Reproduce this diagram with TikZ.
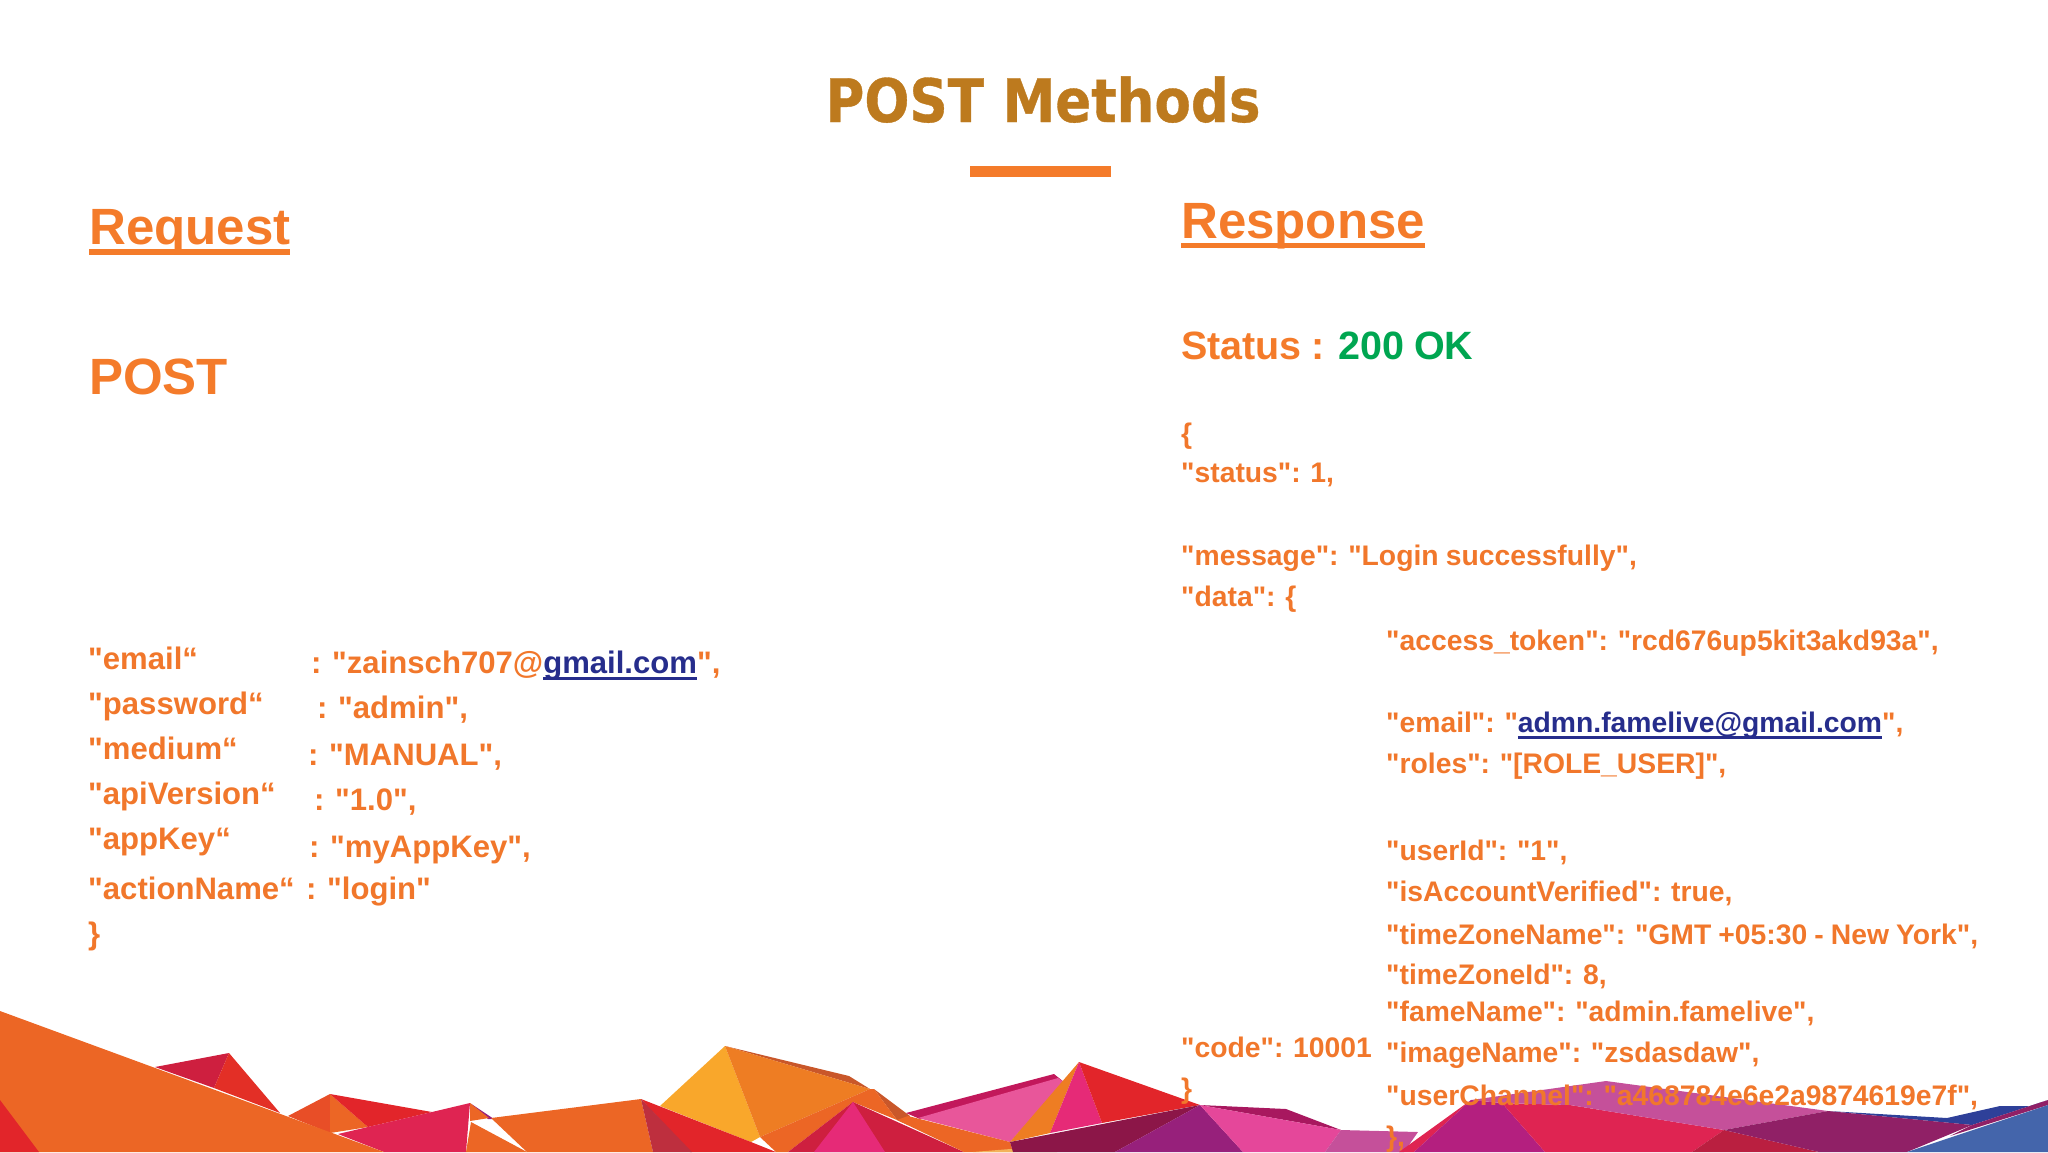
\documentclass[tikz,border=0pt]{standalone}
\usepackage{fontspec}
\setmainfont[Ligatures=TeXOff,WordSpace=0.9]{Liberation Sans}
\newfontfamily\titlefont[FakeStretch=0.885,FakeBold=0.6]{DejaVu Sans}
\definecolor{titlecol}{HTML}{BD7A1E}
\definecolor{headcol}{HTML}{F47B2A}
\definecolor{jsoncol}{HTML}{F1772B}
\definecolor{okcol}{HTML}{00A651}
\definecolor{linkcol}{HTML}{262D8C}
\definecolor{orangeA}{HTML}{EC6625}
\definecolor{orangeB}{HTML}{EE7D23}
\definecolor{orangeC}{HTML}{E84E27}
\definecolor{rustA}{HTML}{C9572A}
\definecolor{yellowA}{HTML}{F9A72B}
\definecolor{yellowB}{HTML}{F3B35B}
\definecolor{redA}{HTML}{E2252A}
\definecolor{redB}{HTML}{E32F26}
\definecolor{crimA}{HTML}{CE1F3F}
\definecolor{crimB}{HTML}{BE2F3E}
\definecolor{crimC}{HTML}{BA1F40}
\definecolor{roseA}{HTML}{DF2452}
\definecolor{pinkA}{HTML}{E62A77}
\definecolor{pinkB}{HTML}{E8569A}
\definecolor{pinkC}{HTML}{E5479A}
\definecolor{magA}{HTML}{C2185B}
\definecolor{magB}{HTML}{A8185F}
\definecolor{plumA}{HTML}{8C1648}
\definecolor{plumB}{HTML}{902066}
\definecolor{purpA}{HTML}{97207B}
\definecolor{purpB}{HTML}{B41F7F}
\definecolor{mauveA}{HTML}{C5509A}
\definecolor{blueA}{HTML}{2E4099}
\definecolor{blueB}{HTML}{4465AB}
\newcommand{\ulined}[3]{\vtop{\hbox{\smash{#3}}\kern#1\hrule height #2}}
\tikzset{
  headline/.style={anchor=base west, inner sep=0pt, text=headcol, font=\fontsize{51}{60}\selectfont\bfseries},
  statusline/.style={anchor=base west, inner sep=0pt, text=headcol, font=\fontsize{39.5}{48}\selectfont\bfseries},
  jsonleft/.style={anchor=base west, inner sep=0pt, text=jsoncol, font=\fontsize{31.1}{37}\selectfont\bfseries},
  jsonright/.style={anchor=base west, inner sep=0pt, text=jsoncol, font=\fontsize{28.3}{34}\selectfont\bfseries},
}
\begin{document}
\begin{tikzpicture}[x=1pt,y=-1pt]
  \useasboundingbox (0,0) rectangle (2048,1152);

  % mountains, left part
  \fill[crimA] (155,1067) -- (229,1053) -- (214,1088) -- cycle;
  \fill[redB] (229,1053) -- (280,1113) -- (214,1088) -- cycle;
  \fill[orangeC] (288,1116) -- (330,1094) -- (330,1133) -- cycle;
  \fill[orangeA] (330,1094) -- (368,1127) -- (330,1133) -- cycle;
  \fill[redA] (330,1094) -- (432,1112) -- (368,1127) -- cycle;
  \fill[purpA] (470,1103) -- (494,1119) -- (488,1119) -- cycle;
  \fill[orangeA] (470,1103) -- (489,1118) -- (470,1121) -- cycle;
  \fill[roseA] (338,1134) -- (432,1112) -- (470,1103) -- (466,1152) -- (384,1152) -- cycle;
  \fill[orangeA] (471,1122) -- (527,1152) -- (466,1152) -- cycle;
  \fill[orangeA] (0,1011) -- (384,1152) -- (0,1152) -- cycle;
  \fill[redA] (0,1100) -- (39,1152) -- (0,1152) -- cycle;
  \fill[orangeA] (491,1118) -- (641,1099) -- (653,1152) -- (527,1152) -- cycle;

  % mountains, middle part
  \fill[yellowA] (660,1106) -- (725,1046) -- (760,1137) -- (751,1142) -- cycle;
  \fill[rustA] (725,1046) -- (849,1076) -- (870,1089) -- cycle;
  \fill[orangeB] (725,1046) -- (870,1089) -- (760,1137) -- cycle;
  \fill[redA] (641,1099) -- (751,1142) -- (776,1152) -- (690,1152) -- cycle;
  \fill[crimB] (641,1099) -- (692,1152) -- (653,1152) -- cycle;
  \fill[rustA] (874,1089) -- (910,1116) -- (908,1125) -- (897,1120) -- cycle;
  \fill[orangeA] (760,1137) -- (870,1089) -- (874,1089) -- (897,1120) -- (853,1102) -- (788,1152) -- (776,1152) -- cycle;
  \fill[crimA] (853,1102) -- (964,1152) -- (788,1152) -- cycle;
  \fill[pinkA] (853,1102) -- (885,1152) -- (814,1152) -- cycle;
  \fill[magA] (906,1113) -- (1054,1074) -- (1064,1082) -- (920,1119) -- cycle;
  \fill[pinkB] (918,1118) -- (1058,1078) -- (1064,1082) -- (1010,1142) -- cycle;
  \fill[orangeA] (908,1116) -- (1010,1142) -- (1013,1152) -- (964,1152) -- (897,1120) -- cycle;
  \fill[yellowB] (973,1152) -- (1048,1146) -- (1057,1152) -- cycle;
  \fill[orangeB] (1010,1142) -- (1079,1062) -- (1050,1133) -- cycle;
  \fill[pinkA] (1079,1062) -- (1102,1123) -- (1050,1133) -- cycle;
  \fill[redA] (1079,1062) -- (1200,1105) -- (1102,1123) -- cycle;
  \fill[plumA] (1010,1142) -- (1200,1105) -- (1115,1152) -- (1013,1152) -- cycle;
  \fill[purpA] (1200,1105) -- (1243,1152) -- (1115,1152) -- cycle;
  \fill[magB] (1200,1105) -- (1286,1109) -- (1341,1130) -- cycle;
  \fill[pinkC] (1200,1105) -- (1341,1130) -- (1325,1152) -- (1243,1152) -- cycle;

  % mountains, right part
  \fill[mauveA] (1341,1130) -- (1418,1132) -- (1404,1152) -- (1325,1152) -- cycle;
  \fill[roseA] (1399,1152) -- (1471,1100) -- (1414,1152) -- cycle;
  \fill[purpB] (1414,1152) -- (1471,1100) -- (1502,1103) -- (1545,1152) -- cycle;
  \fill[roseA] (1502,1103) -- (1570,1105) -- (1724,1130) -- (1692,1152) -- (1545,1152) -- cycle;
  \fill[mauveA] (1471,1100) -- (1606,1081) -- (1828,1111) -- (1724,1130) -- (1570,1105) -- (1502,1103) -- cycle;
  \fill[crimC] (1724,1130) -- (1819,1152) -- (1692,1152) -- cycle;
  \fill[blueA] (1828,1111) -- (1947,1118) -- (2000,1106) -- (2031,1106) -- (2048,1100) -- (1972,1125) -- cycle;
  \fill[plumB] (1724,1130) -- (1828,1111) -- (1972,1125) -- (1907,1152) -- (1819,1152) -- cycle;
  \fill[plumB] (1972,1125) -- (2048,1100) -- (2048,1105) -- (1950,1136) -- cycle;
  \fill[blueB] (1907,1152) -- (2048,1105) -- (2048,1152) -- cycle;

  % title
  \node[inner sep=0pt, anchor=base, text=titlecol, font=\fontsize{60}{72}\selectfont\titlefont\bfseries] (title) at (1043,122) {POST Methods};
  \fill[headcol] (970,166) rectangle (1111,177);

  % left column
  \node[headline] (request) at (89,244) {\ulined{5pt}{6pt}{Request}};
  \node[headline] (post) at (89,394) {POST};

  \foreach \nodeid/\ypos/\txt in {
    emailkey/669/{"email“},
    passkey/714/{"password“},
    mediumkey/759/{"medium“},
    apikey/804/{"apiVersion“},
    appkey/849/{"appKey“},
    actionkey/899/{"actionName“},
    closeleft/944/{\}}}{
    \node[jsonleft] (\nodeid) at (88,\ypos) {\txt};
  }
  \foreach \nodeid/\xpos/\ypos/\txt in {
    emailval/311/673/{: "zainsch707@\textcolor{linkcol}{\ulined{4pt}{2.5pt}{gmail.com}}",},
    passval/317/718/{: "admin",},
    mediumval/308/765/{: "MANUAL",},
    apival/314/810/{: "1.0",},
    appval/309/857/{: "myAppKey",},
    actionval/306/899/{: "login"}}{
    \node[jsonleft] (\nodeid) at (\xpos,\ypos) {\txt};
  }

  % right column
  \node[headline] (response) at (1181,238) {\ulined{5pt}{5pt}{Response}};
  \node[statusline] (status) at (1181,359) {Status : \textcolor{okcol}{200 OK}};

  \foreach \nodeid/\ypos/\txt in {
    openright/443/{\{},
    statusitem/482/{"status": 1,},
    messageitem/565/{"message": "Login successfully",},
    dataitem/606/{"data": \{},
    codeitem/1057/{"code": 10001},
    closeright/1098/{\}}}{
    \node[jsonright] (\nodeid) at (1181,\ypos) {\txt};
  }
  \foreach \nodeid/\ypos/\txt in {
    tokenitem/650/{"access\_token": "rcd676up5kit3akd93a",},
    mailitem/732/{"email": "\textcolor{linkcol}{\ulined{4pt}{2.5pt}{admn.famelive@gmail.com}}",},
    rolesitem/773/{"roles": "[ROLE\_USER]",},
    useritem/860/{"userId": "1",},
    verifieditem/901/{"isAccountVerified": true,},
    zonenameitem/944/{"timeZoneName": "GMT +05:30 - New York",},
    zoneiditem/984/{"timeZoneId": 8,},
    fameitem/1021/{"fameName": "admin.famelive",},
    imageitem/1062/{"imageName": "zsdasdaw",},
    channelitem/1105/{"userChannel": "a468784e6e2a9874619e7f",},
    closedata/1146/{\},}}{
    \node[jsonright] (\nodeid) at (1386,\ypos) {\txt};
  }
\end{tikzpicture}
\end{document}
